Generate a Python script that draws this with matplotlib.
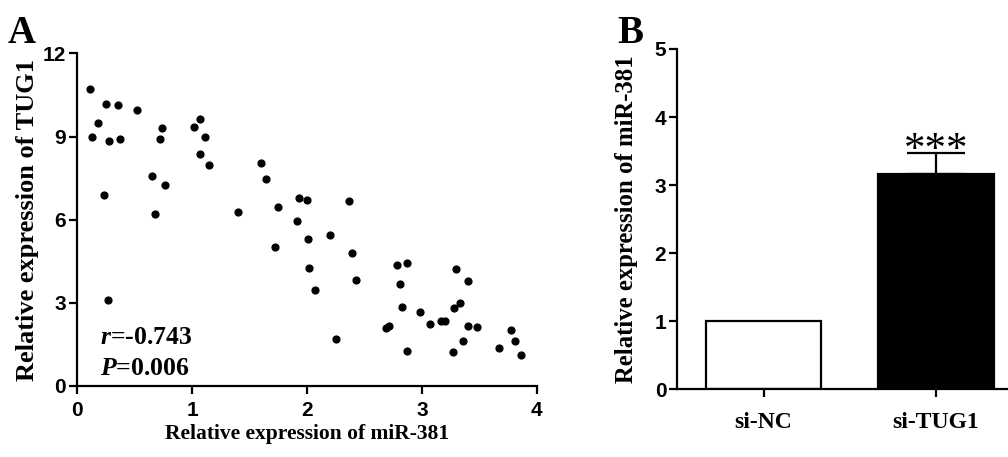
import numpy as np
import matplotlib
matplotlib.use("Agg")
from matplotlib import pyplot as plt

# panel A data
mir381 = [0.11, 0.25, 0.35, 0.52, 0.18, 0.125, 0.28, 0.37, 0.74, 0.72,
          1.07, 1.02, 1.11, 1.07, 1.15, 0.65, 0.76, 0.23, 0.68, 0.27,
          1.60, 1.64, 1.40, 1.75, 1.93, 1.91, 1.72, 2.00, 2.37, 2.01,
          2.20, 2.39, 2.02, 2.43, 2.07, 2.25, 2.78, 2.87, 2.81, 2.83,
          2.98, 2.69, 2.71, 2.87, 3.07, 3.17, 3.20, 3.30, 3.40, 3.33,
          3.28, 3.40, 3.48, 3.36, 3.27, 3.78, 3.81, 3.67, 3.86]
tug1 = [10.71, 10.17, 10.13, 9.95, 9.50, 8.98, 8.83, 8.91, 9.32, 8.90,
        9.63, 9.33, 8.98, 8.37, 7.97, 7.59, 7.24, 6.90, 6.19, 3.11,
        8.05, 7.48, 6.28, 6.47, 6.78, 5.95, 5.01, 6.70, 6.67, 5.31,
        5.46, 4.78, 4.24, 3.84, 3.45, 1.69, 4.35, 4.44, 3.69, 2.84,
        2.68, 2.08, 2.16, 1.26, 2.23, 2.34, 2.34, 4.22, 3.79, 3.01,
        2.82, 2.16, 2.11, 1.63, 1.21, 2.01, 1.64, 1.36, 1.12]

# panel B data
groups = ['si-NC', 'si-TUG1']
expr = [1.0, 3.16]
err = [0.0, 0.31]

serif = 'Liberation Serif'
sans = 'Liberation Sans'
plt.rcParams['mathtext.fontset'] = 'custom'
plt.rcParams['mathtext.it'] = 'Liberation Serif:italic:bold'
plt.rcParams['mathtext.rm'] = 'Liberation Serif:bold'

fig = plt.figure(figsize=(10.08, 4.57), dpi=100)

def style_axes(ax):
    for s in ['top', 'right']:
        ax.spines[s].set_visible(False)
    for s in ['left', 'bottom']:
        ax.spines[s].set_linewidth(1.6)
    ax.tick_params(direction='out', length=6, width=1.6, labelsize=15, pad=2)
    for lab in ax.get_xticklabels() + ax.get_yticklabels():
        lab.set_fontfamily(sans)
        lab.set_fontweight('bold')

# ---- panel A ----
axA = fig.add_axes([0.0767, 0.1554, 0.4557, 0.7278])
axA.scatter(mir381, tug1, s=24, color='black', zorder=3, clip_on=False)
axA.set_xlim(0, 4)
axA.set_ylim(0, 12)
axA.set_xticks([0, 1, 2, 3, 4])
axA.set_yticks([0, 3, 6, 9, 12])
style_axes(axA)
axA.tick_params(axis='x', pad=5)
axA.set_xlabel('Relative expression of miR-381', fontfamily=serif,
               fontweight='bold', fontsize=15.5, labelpad=3)
axA.set_ylabel('Relative expression of TUG1', fontfamily=serif,
               fontweight='bold', fontsize=19, labelpad=3)
axA.text(0.2, 1.52, r'$\mathit{r}$=-0.743', fontfamily=serif,
         fontweight='bold', fontsize=18.5, va='baseline')
axA.text(0.2, 0.4, r'$\mathit{P}$=0.006', fontfamily=serif,
         fontweight='bold', fontsize=18.5, va='baseline')
fig.text(0.008, 0.905, 'A', fontfamily=serif, fontweight='bold', fontsize=28)

# ---- panel B ----
axB = fig.add_axes([0.672, 0.1481, 0.33, 0.7447])
pos = np.arange(len(groups))
axB.bar(pos, expr, width=0.67, color=['white', 'black'], edgecolor='black',
        linewidth=1.6, zorder=2)
axB.errorbar(pos[1:], expr[1:], yerr=[[0], err[1:]], fmt='none',
             ecolor='black', elinewidth=1.6, capsize=21, capthick=1.6, zorder=1)
axB.text(pos[1], expr[1] + err[1] - 0.25, '***', ha='center', va='bottom',
         fontfamily=serif, fontsize=31)
axB.set_xlim(-0.5, 1.43)
axB.set_ylim(0, 5)
axB.set_xticks(pos)
axB.set_xticklabels(groups)
axB.set_yticks([0, 1, 2, 3, 4, 5])
style_axes(axB)
for lab in axB.get_xticklabels():
    lab.set_fontfamily(serif)
    lab.set_fontsize(17)
axB.tick_params(axis='x', pad=10)
axB.set_ylabel('Relative expression of miR-381', fontfamily=serif,
               fontweight='bold', fontsize=17.8, labelpad=12)
fig.text(0.612, 0.905, 'B', fontfamily=serif, fontweight='bold', fontsize=28)

fig.savefig('out.png', dpi=100)
